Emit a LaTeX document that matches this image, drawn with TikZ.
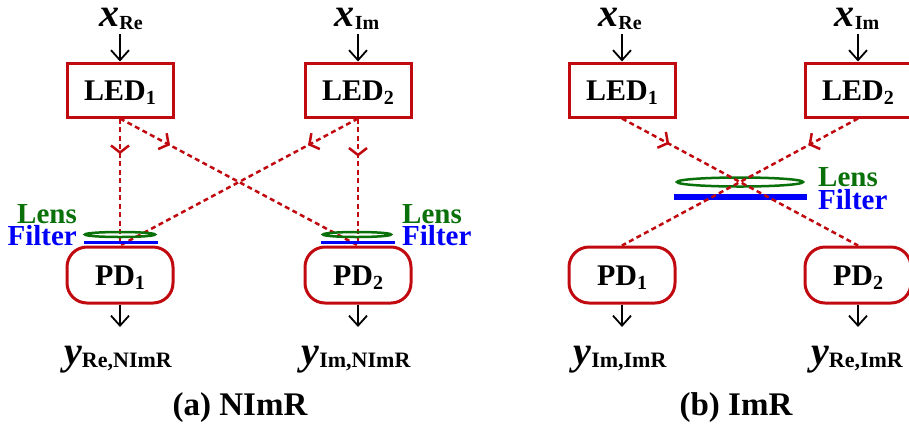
\documentclass[tikz,border=0pt]{standalone}
\usepackage{fontspec}
\setmainfont{Liberation Serif}
\usetikzlibrary{arrows.meta,decorations.markings}
\definecolor{bxred}{RGB}{192,10,16}
\definecolor{lensgreen}{RGB}{10,112,10}
\definecolor{filtblue}{RGB}{0,0,250}
\newcommand{\varlab}[3]{{\fontsize{40}{40}\selectfont\bfseries\itshape #1}\raisebox{-3pt}{\fontsize{#3}{#3}\selectfont\bfseries #2}}
\newcommand{\subn}[1]{\raisebox{-4pt}{\fontsize{20}{20}\selectfont #1}}
\begin{document}
\begin{tikzpicture}[x=1pt,y=-1pt,
  dev/.style={draw=bxred, line width=3pt, minimum width=106pt, minimum height=54pt,
    inner sep=0pt, text height=20pt, text depth=0pt, font=\fontsize{30}{30}\selectfont\bfseries},
  pdbox/.style={dev, rounded corners=20pt, minimum height=56pt},
  lbl/.style={inner sep=0pt},
  blk/.style={line width=1.8pt, -{Straight Barb[length=10pt,width=18pt]}},
  ray/.style={draw=bxred, line width=2.5pt, dash pattern=on 5pt off 3.5pt},
  raymark/.style={ray, decoration={markings, mark=at position #1 with
    {\arrow[bxred,line width=2.5pt]{Straight Barb[length=7pt,width=18pt]}}},
    postaction={decorate}},
  lens/.style={draw=lensgreen, line width=2.5pt},
  filt/.style={draw=filtblue},
  lenslbl/.style={inner sep=0pt, text=lensgreen, font=\fontsize{29}{29}\selectfont\bfseries},
  filtlbl/.style={inner sep=0pt, text=filtblue, font=\fontsize{29}{29}\selectfont\bfseries},
  captxt/.style={inner sep=0pt, font=\fontsize{33}{33}\selectfont\bfseries}
]
\useasboundingbox (0,0) rectangle (909,432);
\clip (0,0) rectangle (909,432);

% ---------- panel (a) ----------
\node[dev] (led1a) at (120,90) {LED\subn{1}};
\node[dev] (led2a) at (358,90) {LED\subn{2}};
\node[pdbox] (pd1a) at (120,275) {PD\subn{1}};
\node[pdbox] (pd2a) at (358,275) {PD\subn{2}};

\node[lbl, anchor=base] (xrea) at (121,26) {\varlab{x}{Re}{20}};
\node[lbl, anchor=base] (xima) at (357,26) {\varlab{x}{Im}{20}};
\coordinate (inrea) at (120,34);
\coordinate (inima) at (358,34);
\draw[blk] (inrea) -- (led1a.north);
\draw[blk] (inima) -- (led2a.north);

\node[lbl, anchor=base] (yrea) at (118,364) {\varlab{y}{Re,NImR}{22}};
\node[lbl, anchor=base] (yima) at (356,364) {\varlab{y}{Im,NImR}{22}};
\coordinate (outrea) at (120,327);
\coordinate (outima) at (358,327);
\draw[blk] (pd1a.south) -- (outrea);
\draw[blk] (pd2a.south) -- (outima);

\draw[raymark=0.28] (led1a.south) -- (pd1a.north);
\draw[raymark=0.21] (led1a.south) -- (pd2a.north);
\draw[raymark=0.21] (led2a.south) -- (pd1a.north);
\draw[raymark=0.30] (led2a.south) -- (pd2a.north);

\draw[lens] (120,234.5) ellipse [x radius=35, y radius=2.5];
\draw[filt, line width=3pt] (84,242) -- (158,242);
\draw[lens] (357,234.5) ellipse [x radius=34, y radius=2.5];
\draw[filt, line width=3pt] (321,242) -- (395,242);

\node[lenslbl, anchor=base east] (lensla) at (77,223) {Lens};
\node[filtlbl, anchor=base east] (filtla) at (77,245) {Filter};
\node[lenslbl, anchor=base west] (lensra) at (402,223) {Lens};
\node[filtlbl, anchor=base west] (filtra) at (402,245) {Filter};

\node[captxt, anchor=base] (capa) at (240,415) {(a) NImR};

% ---------- panel (b) ----------
\node[dev] (led1b) at (622,90) {LED\subn{1}};
\node[dev] (led2b) at (858,90) {LED\subn{2}};
\node[pdbox] (pd1b) at (622,275) {PD\subn{1}};
\node[pdbox] (pd2b) at (858,275) {PD\subn{2}};

\node[lbl, anchor=base] (xreb) at (620,26) {\varlab{x}{Re}{20}};
\node[lbl, anchor=base] (ximb) at (857,26) {\varlab{x}{Im}{20}};
\coordinate (inreb) at (622,34);
\coordinate (inimb) at (858,34);
\draw[blk] (inreb) -- (led1b.north);
\draw[blk] (inimb) -- (led2b.north);

\node[lbl, anchor=base] (yimb) at (620,364) {\varlab{y}{Im,ImR}{22}};
\node[lbl, anchor=base] (yreb) at (857,364) {\varlab{y}{Re,ImR}{22}};
\coordinate (outimb) at (622,327);
\coordinate (outreb) at (858,327);
\draw[blk] (pd1b.south) -- (outimb);
\draw[blk] (pd2b.south) -- (outreb);

\draw[lens] (740,182) ellipse [x radius=63, y radius=4.5];
\draw[filt, line width=6pt] (674,197) -- (807,197);
\draw[raymark=0.20] (led1b.south) -- (pd2b.north);
\draw[raymark=0.21] (led2b.south) -- (pd1b.north);

\node[lenslbl, anchor=base west] (lenslb) at (818,186) {Lens};
\node[filtlbl, anchor=base west] (filtlb) at (818,209) {Filter};

\node[captxt, anchor=base] (capb) at (736,415) {(b) ImR};
\end{tikzpicture}
\end{document}
